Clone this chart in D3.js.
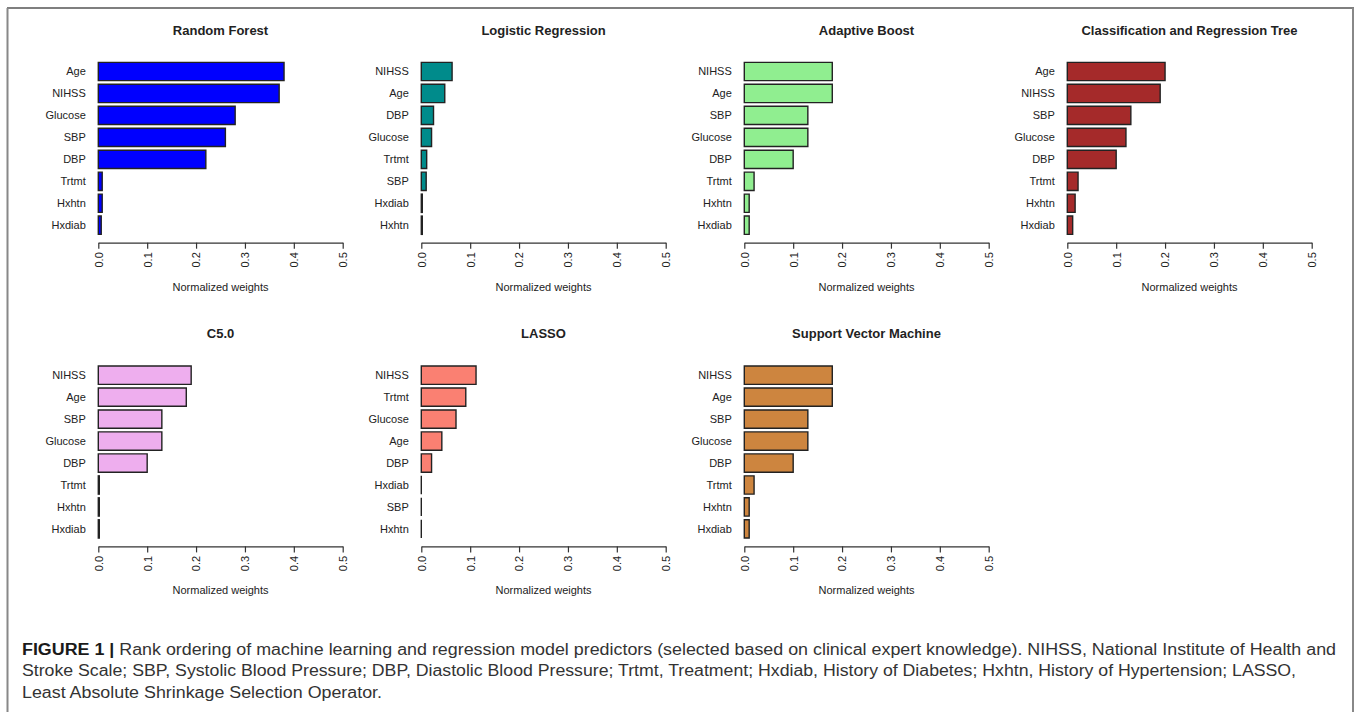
<!DOCTYPE html>
<html>
<head>
<meta charset="utf-8">
<script src="https://cdn.jsdelivr.net/npm/d3@7"></script>
<style>
  body { margin: 0; background: #fff; }
  svg { display: block; }
</style>
</head>
<body>
<svg id="chart"></svg>
<script>
// ---- data ----
const rfLabels = ["Age", "NIHSS", "Glucose", "SBP", "DBP", "Trtmt", "Hxhtn", "Hxdiab"]
const rfValues = [0.38, 0.37, 0.28, 0.26, 0.22, 0.008, 0.008, 0.006]

const lrLabels = ["NIHSS", "Age", "DBP", "Glucose", "Trtmt", "SBP", "Hxdiab", "Hxhtn"]
const lrValues = [0.063, 0.048, 0.025, 0.021, 0.011, 0.01, 0.002, 0.002]

const abLabels = ["NIHSS", "Age", "SBP", "Glucose", "DBP", "Trtmt", "Hxhtn", "Hxdiab"]
const abValues = [0.18, 0.18, 0.13, 0.13, 0.10, 0.02, 0.01, 0.01]

const cartLabels = ["Age", "NIHSS", "SBP", "Glucose", "DBP", "Trtmt", "Hxhtn", "Hxdiab"]
const cartValues = [0.20, 0.19, 0.13, 0.12, 0.10, 0.022, 0.016, 0.011]

const c50Labels = ["NIHSS", "Age", "SBP", "Glucose", "DBP", "Trtmt", "Hxhtn", "Hxdiab"]
const c50Values = [0.19, 0.18, 0.13, 0.13, 0.10, 0.002, 0.002, 0.002]

const lassoLabels = ["NIHSS", "Trtmt", "Glucose", "Age", "DBP", "Hxdiab", "SBP", "Hxhtn"]
const lassoValues = [0.112, 0.091, 0.071, 0.042, 0.021, 0, 0, 0]

const svmLabels = ["NIHSS", "Age", "SBP", "Glucose", "DBP", "Trtmt", "Hxhtn", "Hxdiab"]
const svmValues = [0.18, 0.18, 0.13, 0.13, 0.10, 0.02, 0.01, 0.01]

const xTicks = [0, 0.1, 0.2, 0.3, 0.4, 0.5]

const captionLines = [
    [["FIGURE 1 | ", true], ["Rank ordering of machine learning and regression model predictors (selected based on clinical expert knowledge). NIHSS, National Institute of Health and", false]],
    [["Stroke Scale; SBP, Systolic Blood Pressure; DBP, Diastolic Blood Pressure; Trtmt, Treatment; Hxdiab, History of Diabetes; Hxhtn, History of Hypertension; LASSO,", false]],
    [["Least Absolute Shrinkage Selection Operator.", false]]
]

// ---- layout ----
let width = 1357, height = 712
let font = "'Liberation Sans', Arial, sans-serif"
let svg = d3.select("#chart").attr("width", width).attr("height", height)

//外框
svg.append("line").attr("x1", 7).attr("x2", 1354).attr("y1", 8).attr("y2", 8)
    .attr("stroke", "#555").attr("stroke-width", 1.5)
svg.append("line").attr("x1", 7.5).attr("x2", 7.5).attr("y1", 8).attr("y2", height)
    .attr("stroke", "#888").attr("stroke-width", 2)
svg.append("line").attr("x1", 1353).attr("x2", 1353).attr("y1", 8).attr("y2", height)
    .attr("stroke", "#888").attr("stroke-width", 2)

let panels = [
    { title: "Random Forest", labels: rfLabels, values: rfValues, color: "#0000FF", col: 0, row: 0 },
    { title: "Logistic Regression", labels: lrLabels, values: lrValues, color: "#008B8B", col: 1, row: 0 },
    { title: "Adaptive Boost", labels: abLabels, values: abValues, color: "#90EE90", col: 2, row: 0 },
    { title: "Classification and Regression Tree", labels: cartLabels, values: cartValues, color: "#A52A2A", col: 3, row: 0 },
    { title: "C5.0", labels: c50Labels, values: c50Values, color: "#EEAEEE", col: 0, row: 1 },
    { title: "LASSO", labels: lassoLabels, values: lassoValues, color: "#FA8072", col: 1, row: 1 },
    { title: "Support Vector Machine", labels: svmLabels, values: svmValues, color: "#CD853F", col: 2, row: 1 }
]

panels.forEach((p) => {
    let x0 = 98.3 + p.col * 323
    let dy = p.row * 303.7
    let x = d3.scaleLinear().domain([0, 0.5]).range([x0, x0 + 244.4])
    let y = d3.scaleBand().domain(p.labels).range([60.5 + dy, 60.5 + dy + 175.7])
        .paddingInner(1 / 6).paddingOuter(1 / 12)
    let axisY = 242.7 + dy
    let g = svg.append("g")

    //标题
    g.append("text")
        .attr("x", (x.range()[0] + x.range()[1]) / 2)
        .attr("y", 34.5 + dy)
        .attr("text-anchor", "middle")
        .attr("font-family", font)
        .attr("font-weight", "bold")
        .attr("font-size", 13)
        .attr("fill", "#222")
        .text(p.title)

    //柱子 (path so zero-width bars still draw a line)
    let bh = y.bandwidth()
    g.selectAll("path.bar")
        .data(p.labels.map((l, i) => ({ label: l, value: p.values[i] })))
        .enter()
        .append("path")
        .attr("class", "bar")
        .attr("d", (d) => {
            let w = x(d.value) - x(0)
            return `M${x(0)},${y(d.label)}h${w}v${bh}h${-w}Z`
        })
        .attr("fill", p.color)
        .attr("stroke", "#222")
        .attr("stroke-width", 1.4)

    //y 标签
    g.selectAll("text.lab")
        .data(p.labels)
        .enter()
        .append("text")
        .attr("class", "lab")
        .attr("x", x0 - 12.5)
        .attr("y", (d) => y(d) + bh / 2)
        .attr("dy", "0.35em")
        .attr("text-anchor", "end")
        .attr("font-family", font)
        .attr("font-size", 11)
        .attr("fill", "#222")
        .text((d) => d)

    //x 轴
    let axis = g.append("g")
        .attr("transform", `translate(0,${axisY})`)
        .call(d3.axisBottom(x).tickValues(xTicks).tickFormat(d3.format(".1f")).tickSize(6).tickSizeOuter(0))
    axis.select(".domain").attr("stroke", "#333").attr("stroke-width", 1.2)
    axis.selectAll(".tick line").attr("stroke", "#333").attr("stroke-width", 1.2)
    axis.selectAll(".tick text")
        .attr("font-family", font)
        .attr("font-size", 11)
        .attr("fill", "#222")
        .attr("text-anchor", "end")
        .attr("x", -9.5)
        .attr("y", 0)
        .attr("dy", "0.35em")
        .attr("transform", "rotate(-90)")

    g.append("text")
        .attr("x", (x.range()[0] + x.range()[1]) / 2)
        .attr("y", 290.5 + dy)
        .attr("text-anchor", "middle")
        .attr("font-family", font)
        .attr("font-size", 11)
        .attr("fill", "#222")
        .text("Normalized weights")
})

//图注
let lineWidths = [1314, 1274, 360]
captionLines.forEach((parts, i) => {
    let t = svg.append("text")
        .attr("x", 22)
        .attr("y", 655 + i * 21.3)
        .attr("font-family", font)
        .attr("font-size", 16)
        .attr("fill", "#333")
        .attr("textLength", lineWidths[i])
        .attr("lengthAdjust", "spacingAndGlyphs")
    parts.forEach(([s, bold]) => {
        t.append("tspan")
            .attr("font-weight", bold ? "bold" : "normal")
            .attr("fill", bold ? "#1a1a1a" : "#333")
            .text(s)
    })
})
</script>
</body>
</html>
